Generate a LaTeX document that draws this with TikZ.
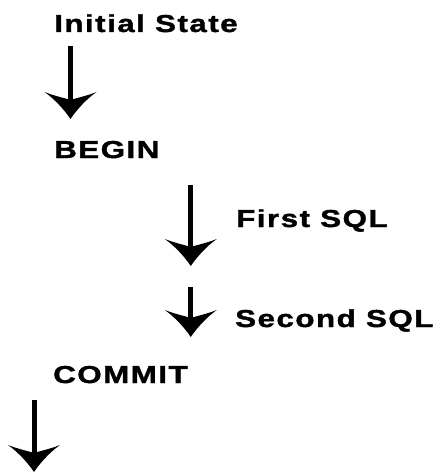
\documentclass[tikz,border=0pt]{standalone}
\usepackage{fontspec}
\setmainfont{Liberation Sans}
\newfontfamily\lblfamily{Liberation Sans}[FakeStretch=1.28,LetterSpace=6,FakeBold=1.5]
\begin{document}
\begin{tikzpicture}[x=1pt,y=-1pt,
  lbl/.style={font=\lblfamily\bfseries\fontsize{24.5}{30}\selectfont, inner sep=0pt, anchor=base west},
  shaft/.style={line width=5pt},
  dhead/.pic={\fill (0,0) .. controls (-6,-9) and (-16,-20) .. (-26,-27)
     .. controls (-16,-23) and (-6,-21) .. (0,-19)
     .. controls (6,-21) and (16,-23) .. (26,-27)
     .. controls (16,-20) and (6,-9) .. (0,0) -- cycle;}]
\useasboundingbox (0,0) rectangle (437,473);
% labels
\node[lbl] (init) at (54,32) {Initial State};
\node[lbl] (begin) at (54,158) {BEGIN};
\node[lbl] (first) at (236,227) {First SQL};
\node[lbl] (second) at (235,327) {Second SQL};
\node[lbl] (commit) at (53,383) {COMMIT};
% arrows
\coordinate (a1s) at (70.5,46);  \coordinate (a1e) at (70.5,119);
\coordinate (a2s) at (190.8,185); \coordinate (a2e) at (190.8,266);
\coordinate (a3s) at (190.8,287); \coordinate (a3e) at (190.8,337);
\coordinate (a4s) at (34,400);   \coordinate (a4e) at (34,472);
\foreach \s/\e in {a1s/a1e,a2s/a2e,a3s/a3e,a4s/a4e}{
  \draw[shaft] (\s) -- ([yshift=15pt]\e);
  \pic at (\e) {dhead};
}
\end{tikzpicture}
\end{document}
